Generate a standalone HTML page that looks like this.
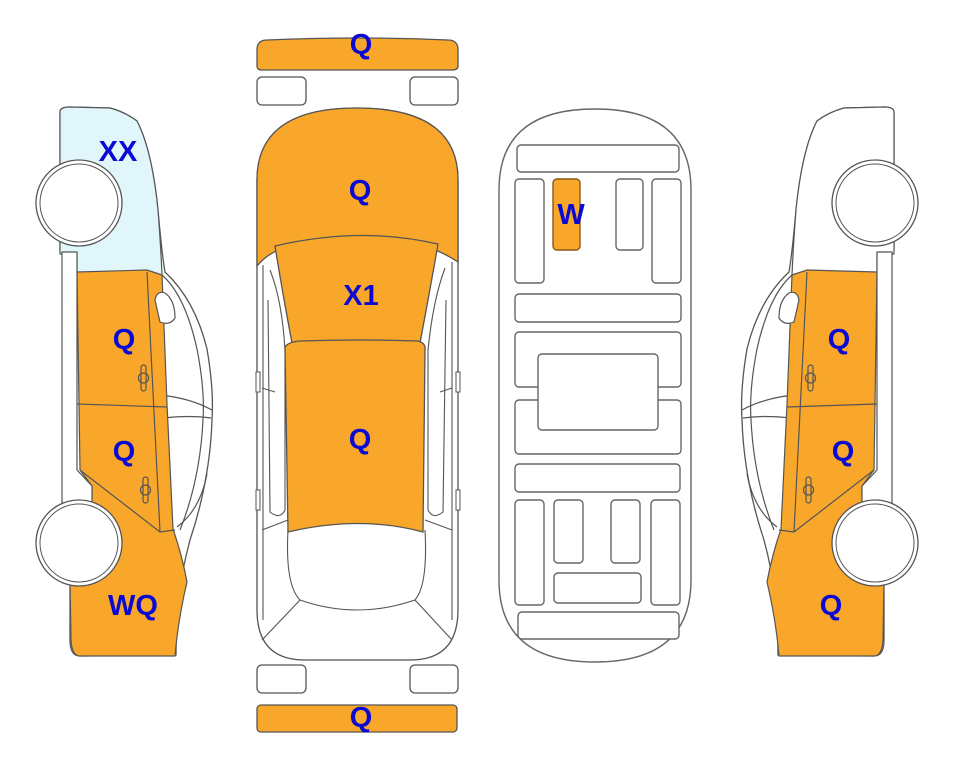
<!DOCTYPE html>
<html><head><meta charset="utf-8"><style>
html,body{margin:0;padding:0;background:#fff;width:963px;height:768px;overflow:hidden}
svg{display:block}
text{font-family:"Liberation Sans",Arial,sans-serif;font-weight:bold;font-size:29px;fill:#0a0ad2;text-anchor:middle;dominant-baseline:central}
.up{fill:var(--up)}
</style></head><body>
<svg width="963" height="768" viewBox="0 0 963 768" xmlns="http://www.w3.org/2000/svg">
<defs>
<g id="side">
  <path d="M60,112 Q60,107 70,107 L110,108 Q125,112 137,121 Q152,150 158,210 Q162,255 165,272 Q195,300 207,349 Q214,390 212,420 Q210,480 190,540 Q182,570 178,600 Q176,630 176,655 L80,656 Q70,656 70,640 L70,250 L60,250 Z" fill="#fff" stroke="#555" stroke-width="1.3"/>
  <path d="M162,275 Q185,295 197,349 Q205,390 203,420 Q200,480 180,530" fill="none" stroke="#555" stroke-width="1.2"/>
  <path d="M160,395 Q190,398 212,410" fill="none" stroke="#555" stroke-width="1.2"/>
  <path d="M163,418 Q190,415 211,418" fill="none" stroke="#555" stroke-width="1.2"/>
  <path d="M177,527 Q200,510 207,474" fill="none" stroke="#555" stroke-width="1.2"/>
  <path class="up" d="M60,112 Q60,107 70,107 L110,108 Q125,112 137,121 Q152,150 158,210 Q161,250 162,275 L77,275 L77,254 L60,254 Z" stroke="#555" stroke-width="1.2"/>
  <path d="M77,272 L147,270 L162,275 Q164,330 167,404 Q170,470 173,529 Q182,555 187,582 Q178,620 175,656 L80,656 Q72,656 71,640 L70,580 L92,560 L92,486 L80,470 Z" fill="#f9a72b" stroke="#555" stroke-width="1.2"/>
  <path d="M62,252 L77,252 L77,470 L92,486 L92,510 L62,510 Z" fill="#fff" stroke="#555" stroke-width="1.2"/>
  <path d="M147,272 L160,532" fill="none" stroke="#555" stroke-width="1.2"/>
  <path d="M77,404 L167,407" fill="none" stroke="#555" stroke-width="1.2"/>
  <path d="M80,470 L160,532 L175,530" fill="none" stroke="#555" stroke-width="1.2"/>
  <path d="M155,300 Q157,290 165,293 Q175,300 175,318 Q170,326 160,322 Z" fill="#fff" stroke="#555" stroke-width="1.2"/>
  <g fill="none" stroke="#555" stroke-width="1.2">
    <rect x="141" y="365" width="5" height="26" rx="2.5"/><circle cx="143.5" cy="378" r="5"/>
    <rect x="143" y="477" width="5" height="26" rx="2.5"/><circle cx="145.5" cy="490" r="5"/>
  </g>
  <circle cx="79" cy="203" r="43" fill="#fff" stroke="#555" stroke-width="1.3"/>
  <circle cx="79" cy="203" r="39" fill="#fff" stroke="#555" stroke-width="1"/>
  <circle cx="79" cy="543" r="43" fill="#fff" stroke="#555" stroke-width="1.3"/>
  <circle cx="79" cy="543" r="39" fill="#fff" stroke="#555" stroke-width="1"/>
</g>
</defs>

<use href="#side" style="--up:#e0f6fb"/>
<use href="#side" style="--up:#ffffff" transform="translate(954,0) scale(-1,1)"/>

<g stroke="#555" stroke-width="1.3">
  <path d="M257,50 Q257,40 267,40 Q360,36 448,40 Q458,40 458,50 L458,66 Q458,70 452,70 L262,70 Q257,70 257,66 Z" fill="#f9a72b"/>
  <rect x="257" y="77" width="49" height="28" rx="5" fill="#fff"/>
  <rect x="410" y="77" width="48" height="28" rx="5" fill="#fff"/>
  <rect x="257" y="665" width="49" height="28" rx="5" fill="#fff"/>
  <rect x="410" y="665" width="48" height="28" rx="5" fill="#fff"/>
  <rect x="257" y="705" width="200" height="27" rx="4" fill="#f9a72b"/>
  <path d="M257,180 Q257,108 357,108 Q458,108 458,180 L458,610 Q458,660 410,660 L305,660 Q257,660 257,610 Z" fill="#fff"/>
  <g fill="none" stroke-width="1.1">
    <path d="M263,265 L263,620"/><path d="M452,262 L452,620"/>
    <path d="M270,270 Q282,300 285,350 L285,510 Q280,520 270,512 L268,300"/>
    <path d="M445,268 Q433,300 428,350 L428,510 Q433,520 443,512 L446,300"/>
    <path d="M288,530 Q285,585 300,600 Q357,620 415,600 Q428,585 425,530"/>
    <path d="M300,600 L262,640"/><path d="M415,600 L452,640"/>
    <path d="M262,530 L288,520"/><path d="M452,530 L425,520"/>
    <path d="M262,388 L275,392"/><path d="M452,388 L440,392"/>
  </g>
  <rect x="256" y="372" width="4" height="20" fill="#fff" stroke-width="1"/>
  <rect x="456" y="372" width="4" height="20" fill="#fff" stroke-width="1"/>
  <rect x="256" y="490" width="4" height="20" fill="#fff" stroke-width="1"/>
  <rect x="456" y="490" width="4" height="20" fill="#fff" stroke-width="1"/>
  <path d="M257,180 Q257,108 357,108 Q458,108 458,180 L458,262 Q440,250 420,245 Q360,228 297,243 Q270,250 257,266 Z" fill="#f9a72b"/>
  <path d="M275,246 Q360,226 438,244 Q430,290 420,343 L292,343 Q282,290 275,246 Z" fill="#f9a72b"/>
  <path d="M285,347 Q288,342 300,341 Q360,339 418,341 Q426,343 425,350 L423,532 Q360,515 288,532 Z" fill="#f9a72b"/>
</g>

<g fill="#fff" stroke="#666" stroke-width="1.4">
  <path d="M499,190 Q499,109 595,109 Q691,109 691,190 L691,580 Q691,662 595,662 Q499,662 499,580 Z"/>
  <rect x="517" y="145" width="162" height="27" rx="4"/>
  <rect x="515" y="179" width="29" height="104" rx="4"/>
  <rect x="553" y="179" width="27" height="71" rx="4" fill="#f9a72b" stroke="#8a5a10"/>
  <rect x="616" y="179" width="27" height="71" rx="4"/>
  <rect x="652" y="179" width="29" height="104" rx="4"/>
  <rect x="515" y="294" width="166" height="28" rx="4"/>
  <rect x="515" y="332" width="166" height="55" rx="4"/>
  <rect x="515" y="400" width="166" height="54" rx="4"/>
  <rect x="538" y="354" width="120" height="76" rx="4"/>
  <rect x="515" y="464" width="165" height="28" rx="4"/>
  <rect x="515" y="500" width="29" height="105" rx="4"/>
  <rect x="554" y="500" width="29" height="63" rx="4"/>
  <rect x="611" y="500" width="29" height="63" rx="4"/>
  <rect x="651" y="500" width="29" height="105" rx="4"/>
  <rect x="554" y="573" width="87" height="30" rx="4"/>
  <rect x="518" y="612" width="161" height="27" rx="4"/>
</g>

<text x="118" y="152">XX</text>
<text x="124" y="340">Q</text>
<text x="124" y="452">Q</text>
<text x="133" y="606">WQ</text>
<text x="361" y="45">Q</text>
<text x="360" y="191">Q</text>
<text x="361" y="296">X1</text>
<text x="360" y="440">Q</text>
<text x="361" y="718">Q</text>
<text x="571" y="215">W</text>
<text x="839" y="340">Q</text>
<text x="843" y="452">Q</text>
<text x="831" y="606">Q</text>
</svg>
</body></html>
